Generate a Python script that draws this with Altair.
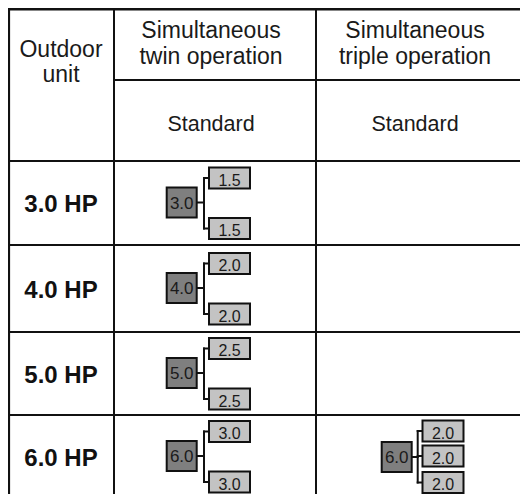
import altair as alt
import pandas as pd

# ---------------- data ----------------
units = ["3.0 HP", "4.0 HP", "5.0 HP", "6.0 HP"]
outdoor_capacity = ["3.0", "4.0", "5.0", "6.0"]
twin_indoor = [["1.5", "1.5"], ["2.0", "2.0"], ["2.5", "2.5"], ["3.0", "3.0"]]
triple_indoor = [[], [], [], ["2.0", "2.0", "2.0"]]
col_headers = [["Outdoor", "unit"],
               ["Simultaneous", "twin operation"],
               ["Simultaneous", "triple operation"]]
sub_headers = ["", "Standard", "Standard"]

# ---------------- layout (page pixel coordinates) ----------------
PX0, PX1 = 8, 520
PY0, PY1 = 8, 494
COL_X = [9, 114, 316, 520]
TEXT_CX = [61, 211, 415]
HEAD_MID = 80
ROW_Y = [161, 245, 332, 415, 498]
FONT = "Liberation Sans"

xs = alt.Scale(domain=[PX0, PX1], range=[0, PX1 - PX0])
ys = alt.Scale(domain=[PY0, PY1], range=[0, PY1 - PY0])

rules = []
def rule(x, x2, y, y2, w):
    rules.append(dict(x=x, x2=x2, y=y, y2=y2, w=w))

# table grid
rule(PX0, PX1, 9.2, 9.2, 2.6)
rule(COL_X[0], COL_X[0], PY0, PY1, 2.2)
rule(COL_X[1], COL_X[1], PY0, PY1, 2)
rule(COL_X[2], COL_X[2], PY0, PY1, 2)
rule(COL_X[1], PX1, HEAD_MID, HEAD_MID, 1.8)
for yv in ROW_Y[:-1]:
    rule(PX0, PX1, yv, yv, 2)

rects = []
texts_main = []
texts_box = []

def diagram(label, cx_main, cy, children, offsets, child_cx, jx):
    rects.append(dict(x=cx_main - 15, x2=cx_main + 15, y=cy - 15, y2=cy + 15, fill="#7f7f7f"))
    texts_main.append(dict(x=cx_main, y=cy + 6.3, t=label))
    rule(cx_main + 15, jx, cy, cy, 2)
    rule(jx, jx, cy + offsets[0], cy + offsets[-1], 2)
    for lab, off in zip(children, offsets):
        rule(jx, child_cx - 20.5, cy + off, cy + off, 2)
        rects.append(dict(x=child_cx - 20.5, x2=child_cx + 20.5,
                          y=cy + off - 10.5, y2=cy + off + 10.5, fill="#c3c3c3"))
        texts_box.append(dict(x=child_cx, y=cy + off + 7.5, t=lab))

for i, unit in enumerate(units):
    rc = (ROW_Y[i] + ROW_Y[i + 1]) / 2
    if twin_indoor[i]:
        diagram(outdoor_capacity[i], 181.7, rc - 0.5, twin_indoor[i], [-24.5, 26], 229.5, 204)
    if triple_indoor[i]:
        diagram(outdoor_capacity[i], 396.7, rc + 0.5, triple_indoor[i], [-26, -1, 25.5], 443, 417.7)

# header text
texts_head = []
for j, lines in enumerate(col_headers):
    base = [57, 82] if j == 0 else [38, 64]
    for ln, b in zip(lines, base):
        texts_head.append(dict(x=TEXT_CX[j], y=b, t=ln))
texts_sub = []
for j, s in enumerate(sub_headers):
    if s:
        texts_sub.append(dict(x=TEXT_CX[j], y=131, t=s))

texts_row = []
for i, unit in enumerate(units):
    rc = (ROW_Y[i] + ROW_Y[i + 1]) / 2
    texts_row.append(dict(x=TEXT_CX[0], y=rc + 9, t=unit))

df_rules = pd.DataFrame(rules)
df_rects = pd.DataFrame(rects)
df_head = pd.DataFrame(texts_head)
df_sub = pd.DataFrame(texts_sub)
df_row = pd.DataFrame(texts_row)
df_main = pd.DataFrame(texts_main)
df_box = pd.DataFrame(texts_box)

X = lambda f: alt.X(f, scale=xs, axis=None)
Y = lambda f: alt.Y(f, scale=ys, axis=None)

rule_layer = alt.Chart(df_rules).mark_rule(color="#111111", strokeCap="square").encode(
    x=X("x:Q"), x2="x2:Q", y=Y("y:Q"), y2="y2:Q",
    strokeWidth=alt.StrokeWidth("w:Q", scale=None, legend=None),
)
rect_layer = alt.Chart(df_rects).mark_rect(stroke="#111111", strokeWidth=2).encode(
    x=X("x:Q"), x2="x2:Q", y=Y("y:Q"), y2="y2:Q",
    fill=alt.Fill("fill:N", scale=None, legend=None),
)
head_layer = alt.Chart(df_head).mark_text(
    font=FONT, fontSize=23, color="#1a1a1a", align="center", baseline="alphabetic"
).encode(x=X("x:Q"), y=Y("y:Q"), text="t:N")
sub_layer = alt.Chart(df_sub).mark_text(
    font=FONT, fontSize=21.5, color="#1a1a1a", align="center", baseline="alphabetic"
).encode(x=X("x:Q"), y=Y("y:Q"), text="t:N")
row_layer = alt.Chart(df_row).mark_text(
    font=FONT, fontSize=24, fontWeight="bold", color="#111111", align="center", baseline="alphabetic"
).encode(x=X("x:Q"), y=Y("y:Q"), text="t:N")
main_layer = alt.Chart(df_main).mark_text(
    font=FONT, fontSize=17, color="#1a1a1a", align="center", baseline="alphabetic"
).encode(x=X("x:Q"), y=Y("y:Q"), text="t:N")
box_layer = alt.Chart(df_box).mark_text(
    font=FONT, fontSize=16, color="#1a1a1a", align="center", baseline="alphabetic"
).encode(x=X("x:Q"), y=Y("y:Q"), text="t:N")

chart = alt.layer(rule_layer, rect_layer, head_layer, sub_layer, row_layer,
                  main_layer, box_layer).properties(
    width=PX1 - PX0, height=PY1 - PY0,
    autosize=alt.AutoSizeParams(type="none"), padding=0,
    background="white",
).configure_view(stroke=None)

chart.save("out.html", embed_options={"renderer": "svg", "actions": False})
